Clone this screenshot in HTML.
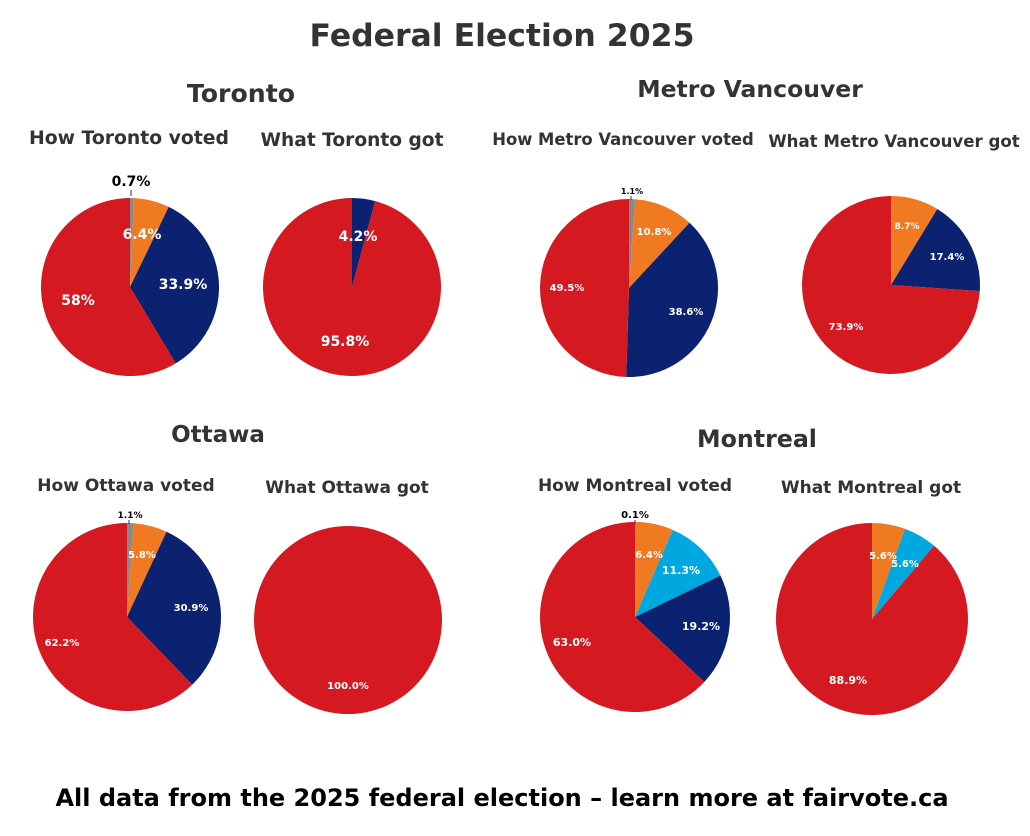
<!DOCTYPE html>
<html><head><meta charset="utf-8"><style>
body{margin:0;background:#fff}
svg{display:block;font-family:"DejaVu Sans","Liberation Sans",sans-serif;font-weight:bold}
</style></head><body>
<svg id="s" width="1030" height="836" viewBox="0 0 1030 836" xmlns="http://www.w3.org/2000/svg">
<rect width="1030" height="836" fill="#fff"/>
<g id="pies"></g>
<g text-anchor="middle" fill="#333">
<text x="502" y="46" font-size="31.5">Federal Election 2025</text>
<text x="241" y="102" font-size="25.2">Toronto</text>
<text x="750" y="97" font-size="23.5">Metro Vancouver</text>
<text x="218" y="442" font-size="23">Ottawa</text>
<text x="757" y="447" font-size="23.7">Montreal</text>
<text x="129" y="144" font-size="18.8">How Toronto voted</text>
<text x="352" y="146" font-size="18.6">What Toronto got</text>
<text x="623" y="145" font-size="16.4">How Metro Vancouver voted</text>
<text x="894" y="147" font-size="16.6">What Metro Vancouver got</text>
<text x="126" y="491" font-size="17">How Ottawa voted</text>
<text x="347" y="493" font-size="17">What Ottawa got</text>
<text x="635" y="491" font-size="17">How Montreal voted</text>
<text x="871" y="493" font-size="17">What Montreal got</text>
<text x="502" y="806" font-size="24" fill="#000">All data from the 2025 federal election – learn more at fairvote.ca</text>
</g>
<g text-anchor="middle" fill="#fff" id="labels">
<text x="131" y="186" font-size="14" fill="#000">0.7%</text>
<text x="142" y="239" font-size="14">6.4%</text>
<text x="183" y="289" font-size="14">33.9%</text>
<text x="78" y="305" font-size="14">58%</text>
<text x="358" y="241" font-size="14">4.2%</text>
<text x="345" y="346" font-size="14">95.8%</text>
<text x="632" y="194" font-size="8" fill="#000">1.1%</text>
<text x="654" y="235" font-size="10">10.8%</text>
<text x="686" y="315" font-size="10">38.6%</text>
<text x="567" y="291" font-size="10">49.5%</text>
<text x="907" y="229" font-size="9">8.7%</text>
<text x="947" y="260" font-size="10">17.4%</text>
<text x="846" y="330" font-size="10">73.9%</text>
<text x="130" y="518" font-size="9" fill="#000">1.1%</text>
<text x="142" y="558" font-size="10">5.8%</text>
<text x="191" y="611" font-size="10">30.9%</text>
<text x="62" y="646" font-size="10">62.2%</text>
<text x="348" y="689" font-size="10">100.0%</text>
<text x="635" y="518" font-size="10" fill="#000">0.1%</text>
<text x="649" y="558" font-size="10">6.4%</text>
<text x="681" y="574" font-size="11">11.3%</text>
<text x="701" y="630" font-size="11">19.2%</text>
<text x="572" y="646" font-size="11">63.0%</text>
<text x="883" y="559" font-size="10">5.6%</text>
<text x="905" y="567" font-size="10">5.6%</text>
<text x="848" y="684" font-size="11">88.9%</text>
</g>
</svg>
<script>
var R="#d51920",O="#f07a22",N="#0b2270",G="#8a8a8a",B="#00a8e0";
var pies=[
[130,287,89,[[0.7,G],[6.4,O],[33.9,N],[58,R]]],
[352,287,89,[[4.2,N],[95.8,R]]],
[629,288,89,[[1.1,G],[10.8,O],[38.6,N],[49.5,R]]],
[891,285,89,[[8.7,O],[17.4,N],[73.9,R]]],
[127,617,94,[[1.1,G],[5.8,O],[30.9,N],[62.2,R]]],
[348,620,94,[[100,R]]],
[635,617,95,[[0.1,G],[6.4,O],[11.3,B],[19.2,N],[63.0,R]]],
[872,619,96,[[5.6,O],[5.6,B],[88.9,R]]]
];
var g=document.getElementById("pies"),h="";
pies.forEach(function(p){
 var cx=p[0],cy=p[1],r=p[2],tot=0;p[3].forEach(function(s){tot+=s[0]});
 var a=0;
 p[3].forEach(function(s){
  var f=s[0]/tot;
  if(f>=0.9999){h+='<circle cx="'+cx+'" cy="'+cy+'" r="'+r+'" fill="'+s[1]+'"/>';return;}
  var a0=a*2*Math.PI,a1=(a+f)*2*Math.PI;a+=f;
  var x0=cx+r*Math.sin(a0),y0=cy-r*Math.cos(a0),x1=cx+r*Math.sin(a1),y1=cy-r*Math.cos(a1);
  h+='<path d="M'+cx+' '+cy+'L'+x0+' '+y0+'A'+r+' '+r+' 0 '+(f>0.5?1:0)+' 1 '+x1+' '+y1+'Z" fill="'+s[1]+'"/>';
 });
});
h+='<line x1="131" y1="190" x2="131" y2="196" stroke="#333" stroke-width="1"/><line x1="631" y1="196" x2="631" y2="200" stroke="#333"/><line x1="129" y1="520" x2="129" y2="524" stroke="#333"/><line x1="635" y1="520" x2="635" y2="524" stroke="#333"/>';
g.innerHTML=h;
</script>
</body></html>
